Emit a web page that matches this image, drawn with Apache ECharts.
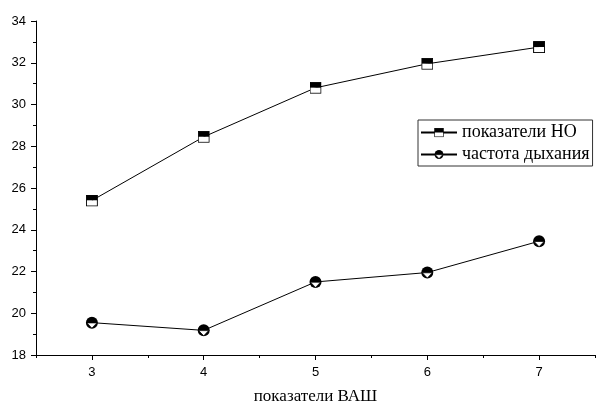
<!DOCTYPE html>
<html>
<head>
<meta charset="utf-8">
<script src="https://cdn.jsdelivr.net/npm/echarts@6/dist/echarts.min.js"></script>
<style>html,body{margin:0;padding:0;background:#fff;}#c{width:597px;height:405px;}</style>
</head>
<body>
<div id="c"></div>
<script>
var xValues = [3, 4, 5, 6, 7];
var noValues = [25.4, 28.45, 30.8, 31.95, 32.75];
var breathValues = [19.55, 19.18, 21.5, 21.95, 23.45];
var seriesNames = ['показатели НО', 'частота дыхания'];
var xAxisName = 'показатели ВАШ';

var squareSvg = '<svg xmlns="http://www.w3.org/2000/svg" width="24" height="24" viewBox="0 0 24 24">' +
  '<rect x="1" y="1" width="22" height="11" fill="black"/>' +
  '<rect x="1" y="12" width="22" height="11" fill="white"/>' +
  '<rect x="1" y="1" width="22" height="22" fill="none" stroke="black" stroke-width="2"/></svg>';
var circleSvg = '<svg xmlns="http://www.w3.org/2000/svg" width="26" height="26" viewBox="0 0 26 26">' +
  '<circle cx="13" cy="13" r="12" fill="black"/>' +
  '<path d="M3 13.5 L23 13.5 L13 24 Z" fill="white" stroke="black" stroke-width="1.5"/></svg>';
function uri(s){ return 'image://data:image/svg+xml;charset=utf-8,' + encodeURIComponent(s); }

function pairs(vals){ return xValues.map(function(x,i){ return [x, vals[i]]; }); }

var chart = echarts.init(document.getElementById('c'));
chart.setOption({
  animation: false,
  backgroundColor: '#fff',
  grid: { left: 36, right: 2, top: 21, bottom: 50, containLabel: false, outerBoundsMode: 'none' },
  legend: {
    left: 418, top: 120,
    orient: 'vertical',
    itemWidth: 36, itemHeight: 12, itemGap: 3, itemTextGap: 5,
    padding: [3, 3, 2, 2],
    borderColor: '#333', borderWidth: 1,
    textStyle: { fontFamily: 'Liberation Serif', fontSize: 18, lineHeight: 19, color: '#000' },
    data: [
      { name: seriesNames[0] },
      { name: seriesNames[1] }
    ]
  },
  xAxis: [{
    type: 'value', min: 2.5, max: 7.5, interval: 0.5,
    name: xAxisName, nameLocation: 'middle', nameGap: 33,
    nameTextStyle: { fontFamily: 'Liberation Serif', fontSize: 17, color: '#000' },
    axisLine: { lineStyle: { color: '#000', width: 1 } },
    axisTick: { show: true, inside: false, length: 3, lineStyle: { color: '#000' } },
    axisLabel: {
      margin: 11, fontFamily: 'Liberation Sans', fontSize: 13, color: '#000',
      formatter: function(v){ return Math.abs(v - Math.round(v)) < 1e-6 && v >= 3 && v <= 7 ? String(Math.round(v)) : ''; }
    },
    splitLine: { show: false }
  }, {
    type: 'value', min: 2.5, max: 7.5, interval: 0.5, position: 'bottom',
    axisLine: { show: false },
    axisTick: { show: true, length: 5, lineStyle: { color: '#000' }, customValues: xValues },
    axisLabel: { show: false },
    splitLine: { show: false }
  }],
  yAxis: {
    type: 'value', min: 18, max: 34, interval: 2,
    axisLine: { show: true, lineStyle: { color: '#000', width: 1 } },
    axisTick: { show: true, length: 5, lineStyle: { color: '#000' } },
    minorTick: { show: true, splitNumber: 2, length: 3, lineStyle: { color: '#000' } },
    axisLabel: { margin: 10, fontFamily: 'Liberation Sans', fontSize: 13, color: '#000' },
    splitLine: { show: false }
  },
  series: [{
    name: seriesNames[0], type: 'line',
    data: pairs(noValues),
    symbol: uri(squareSvg), symbolSize: 12,
    lineStyle: { color: '#000', width: 1 },
    itemStyle: { color: '#000' }
  }, {
    name: seriesNames[1], type: 'line',
    data: pairs(breathValues),
    symbol: uri(circleSvg), symbolSize: 13,
    lineStyle: { color: '#000', width: 1 },
    itemStyle: { color: '#000' }
  }]
});
</script>
</body>
</html>
